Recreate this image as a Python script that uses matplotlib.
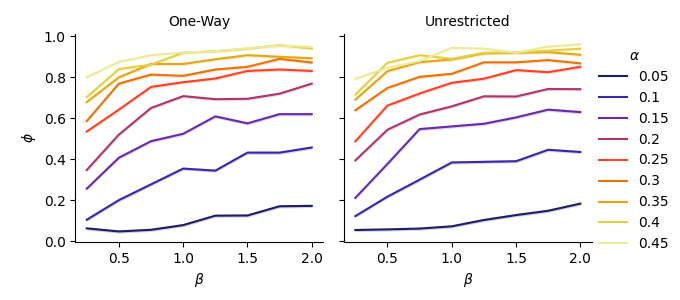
import numpy as np
import matplotlib
matplotlib.use('Agg')
import matplotlib.pyplot as plt

# ---- du lieu doc tu hinh ----
beta = [0.25, 0.5, 0.75, 1.0, 1.25, 1.5, 1.75, 2.0]
alphas = ['0.05', '0.1', '0.15', '0.2', '0.25', '0.3', '0.35', '0.4', '0.45']
titles = ['One-Way', 'Unrestricted']

one_way = [
    [0.062, 0.047, 0.055, 0.078, 0.124, 0.125, 0.170, 0.172],
    [0.104, 0.200, 0.277, 0.354, 0.344, 0.432, 0.432, 0.457],
    [0.256, 0.407, 0.488, 0.524, 0.609, 0.575, 0.620, 0.620],
    [0.347, 0.520, 0.650, 0.708, 0.693, 0.695, 0.720, 0.769],
    [0.535, 0.642, 0.753, 0.776, 0.794, 0.831, 0.838, 0.831],
    [0.586, 0.769, 0.813, 0.807, 0.838, 0.851, 0.890, 0.872],
    [0.679, 0.800, 0.865, 0.865, 0.888, 0.908, 0.900, 0.893],
    [0.703, 0.840, 0.862, 0.920, 0.927, 0.940, 0.957, 0.940],
    [0.800, 0.875, 0.908, 0.921, 0.927, 0.942, 0.955, 0.948],
]
unrestricted = [
    [0.054, 0.057, 0.061, 0.072, 0.103, 0.127, 0.148, 0.183],
    [0.122, 0.217, 0.300, 0.384, 0.387, 0.390, 0.446, 0.435],
    [0.211, 0.377, 0.547, 0.560, 0.573, 0.604, 0.642, 0.630],
    [0.394, 0.544, 0.618, 0.658, 0.707, 0.706, 0.743, 0.742],
    [0.487, 0.662, 0.721, 0.773, 0.793, 0.835, 0.825, 0.851],
    [0.639, 0.748, 0.802, 0.817, 0.873, 0.873, 0.884, 0.868],
    [0.691, 0.830, 0.874, 0.887, 0.917, 0.920, 0.923, 0.910],
    [0.716, 0.871, 0.908, 0.890, 0.920, 0.922, 0.930, 0.940],
    [0.793, 0.846, 0.879, 0.944, 0.940, 0.920, 0.950, 0.961],
]

colors = plt.get_cmap('CMRmap')(np.linspace(0, 1, len(alphas) + 2)[1:-1])
band = 0.008   # do rong dai tin cay (uoc luong)

fig = plt.figure(figsize=(6.8, 3.0), dpi=100)
ax1 = fig.add_axes([0.111, 0.193, 0.364, 0.694])
ax2 = fig.add_axes([0.506, 0.193, 0.364, 0.694], sharey=ax1)

for ax, data, title in zip([ax1, ax2], [one_way, unrestricted], titles):
    for vals, c, a in zip(data, colors, alphas):
        v = np.array(vals)
        ax.fill_between(beta, v - band, v + band, color=c, alpha=0.2, lw=0)
        ax.plot(beta, v, color=c, lw=1.5, label=a)
    ax.set_title(title, fontsize=10)
    ax.set_xlabel(r'$\beta$')
    ax.set_xticks([0.5, 1.0, 1.5, 2.0])
    ax.spines['top'].set_visible(False)
    ax.spines['right'].set_visible(False)

ax1.set_ylabel(r'$\phi$')
ax1.set_yticks([0.0, 0.2, 0.4, 0.6, 0.8, 1.0])
ax1.set_ylim(-0.005, 1.012)
plt.setp(ax2.get_yticklabels(), visible=False)

handles, labels = ax1.get_legend_handles_labels()
fig.legend(handles, labels, title=r'$\alpha$', frameon=False,
           loc='center left', bbox_to_anchor=(0.863, 0.5), fontsize=10)

fig.savefig('out.png', dpi=100)
